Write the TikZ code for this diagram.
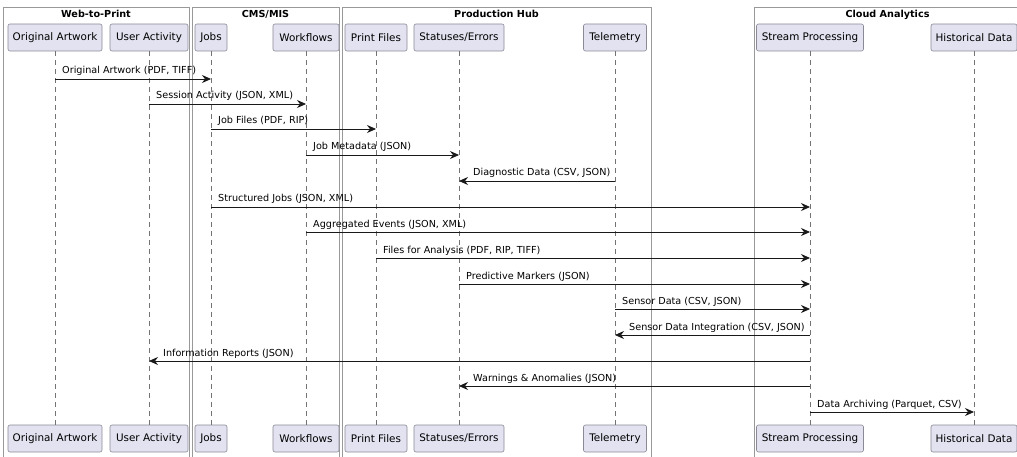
\documentclass[tikz,border=0pt]{standalone}
\usepackage{fontspec}
\setmainfont{DejaVu Sans}
\usetikzlibrary{arrows.meta}
\definecolor{partfill}{HTML}{E2E2F0}
\definecolor{partline}{HTML}{8A8A96}

\begin{document}
\begin{tikzpicture}[x=1pt, y=-1pt,
  grp/.style={draw=black!40, line width=0.8pt, fill=white},
  grptitle/.style={anchor=base, inner sep=0pt, font=\bfseries\fontsize{9.65}{11}\selectfont},
  part/.style={draw=partline, line width=0.6pt, fill=partfill, rounded corners=2pt,
    minimum height=27pt, inner sep=0pt, font=\fontsize{10.4}{12}\selectfont},
  life/.style={draw=black!55, line width=0.5pt, dash pattern=on 5pt off 4pt},
  msg/.style={draw=black!90, line width=0.8pt, -{Stealth[length=9pt,width=8pt,inset=3pt]}},
  lbl/.style={anchor=base west, inner sep=0pt, font=\fontsize{9.65}{11}\selectfont}]
\useasboundingbox (0,0) rectangle (1017,457);
% boxes
\foreach \n/\l/\r/\t in {web/3/189/Web-to-Print, cms/192/339/{CMS/MIS},
                         hub/342/651/Production Hub, cloud/754/1021/Cloud Analytics} {
  \draw[grp] (\l,7) rectangle (\r,460);
  \node[grptitle] (\n) at ({(\l+\r)/2},17.5) {\t};
}
% participants and lifelines
\foreach \n/\x/\w/\t in {oa/55/94/Original Artwork, ua/149/78/User Activity, jobs/211/32/Jobs,
                         wf/306/66/Workflows, pf/376/62/Print Files, se/459/90/{Statuses/Errors},
                         tel/615/63/Telemetry, sp/810/107/Stream Processing, hd/974/86/Historical Data} {
  \node[part, minimum width=\w pt] (\n) at (\x,37.5) {\t};
  \node[part, minimum width=\w pt] (\n-b) at (\x,438.5) {\t};
  \draw[life] (\n) -- (\n-b);
}
% messages to the right
\foreach \a/\b/\y/\t [count=\i] in {oa/jobs/79/{Original Artwork (PDF, TIFF)},
    ua/wf/104/{Session Activity (JSON, XML)}, jobs/pf/129/{Job Files (PDF, RIP)},
    wf/se/155/{Job Metadata (JSON)}, jobs/sp/207/{Structured Jobs (JSON, XML)},
    wf/sp/232/{Aggregated Events (JSON, XML)}, pf/sp/258/{Files for Analysis (PDF, RIP, TIFF)},
    se/sp/284/{Predictive Markers (JSON)}, tel/sp/309/{Sensor Data (CSV, JSON)},
    sp/hd/412/{Data Archiving (Parquet, CSV)}} {
  \draw[msg] (\a |- 0,\y) -- (\b |- 0,\y);
  \node[lbl] (r\i) at ([xshift=7pt]\a |- 0,{\y-5}) {\t};
}
% messages to the left
\foreach \a/\b/\y/\t [count=\i] in {tel/se/181/{Diagnostic Data (CSV, JSON)},
    sp/tel/335/{Sensor Data Integration (CSV, JSON)}, sp/ua/361/{Information Reports (JSON)},
    sp/se/386/{Warnings \& Anomalies (JSON)}} {
  \draw[msg] (\a |- 0,\y) -- (\b |- 0,\y);
  \node[lbl] (l\i) at ([xshift=14pt]\b |- 0,{\y-5}) {\t};
}
\end{tikzpicture}
\end{document}
